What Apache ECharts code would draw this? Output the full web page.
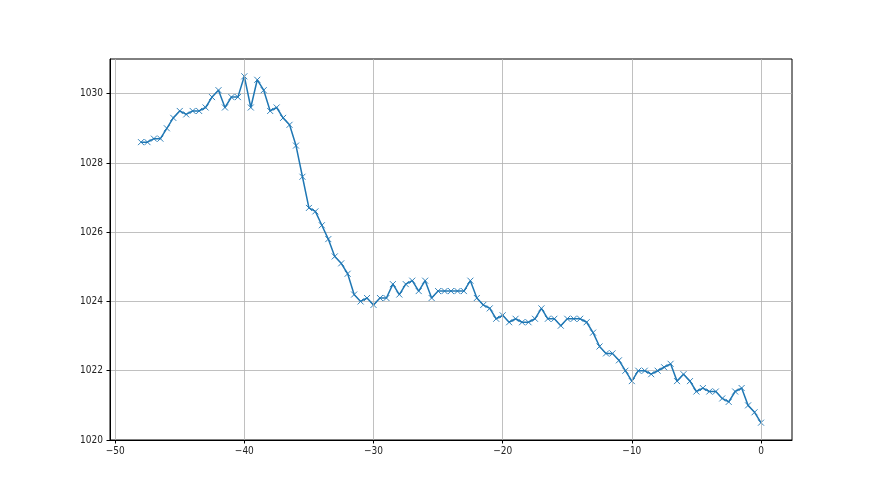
<!DOCTYPE html>
<html>
<head>
<meta charset="utf-8">
<script src="https://cdn.jsdelivr.net/npm/echarts@6/dist/echarts.min.js"></script>
<style>html,body{margin:0;padding:0;background:#fff;}#chart{width:880px;height:495px;}</style>
</head>
<body>
<div id="chart"></div>
<script>
const times = [-48,-47.5,-47,-46.5,-46,-45.5,-45,-44.5,-44,-43.5,-43,-42.5,-42,-41.5,-41,-40.5,-40,
  -39.5,-39,-38.5,-38,-37.5,-37,-36.5,-36,-35.5,-35,-34.5,-34,-33.5,-33,-32.5,-32,-31.5,-31,-30.5,-30,
  -29.5,-29,-28.5,-28,-27.5,-27,-26.5,-26,-25.5,-25,-24.5,-24,-23.5,-23,-22.5,-22,-21.5,-21,-20.5,-20,
  -19.5,-19,-18.5,-18,-17.5,-17,-16.5,-16,-15.5,-15,-14.5,-14,-13.5,-13,-12.5,-12,-11.5,-11,-10.5,-10,
  -9.5,-9,-8.5,-8,-7.5,-7,-6.5,-6,-5.5,-5,-4.5,-4,-3.5,-3,-2.5,-2,-1.5,-1,-0.5,0];
const pressure = [1028.6,1028.6,1028.7,1028.7,1029.0,1029.3,1029.5,1029.4,1029.5,1029.5,1029.6,1029.9,1030.1,1029.6,1029.9,1029.9,1030.5,
  1029.6,1030.4,1030.1,1029.5,1029.6,1029.3,1029.1,1028.5,1027.6,1026.7,1026.6,1026.2,1025.8,1025.3,1025.1,1024.8,1024.2,1024.0,1024.1,1023.9,
  1024.1,1024.1,1024.5,1024.2,1024.5,1024.6,1024.3,1024.6,1024.1,1024.3,1024.3,1024.3,1024.3,1024.3,1024.6,1024.1,1023.9,1023.8,1023.5,1023.6,
  1023.4,1023.5,1023.4,1023.4,1023.5,1023.8,1023.5,1023.5,1023.3,1023.5,1023.5,1023.5,1023.4,1023.1,1022.7,1022.5,1022.5,1022.3,1022.0,1021.7,
  1022.0,1022.0,1021.9,1022.0,1022.1,1022.2,1021.7,1021.9,1021.7,1021.4,1021.5,1021.4,1021.4,1021.2,1021.1,1021.4,1021.5,1021.0,1020.8,1020.5];
const xTicks = [-50,-40,-30,-20,-10,0];
const yTicks = [1020,1022,1024,1026,1028,1030];

const chart = echarts.init(document.getElementById('chart'), null, {renderer:'canvas'});
const font = {fontFamily:"'Liberation Sans Narrow', 'DejaVu Sans Condensed', 'DejaVu Sans', sans-serif", fontSize:10, color:'#222'};
const fmtX = v => String(v).replace('-', '\u2212');
const fmtY = v => String(v);
chart.setOption({
  animation:false,
  backgroundColor:'#fff',
  grid:{left:110, right:88, top:59, bottom:55, show:true, borderColor:'#000', borderWidth:1, backgroundColor:'transparent'},
  xAxis:{
    type:'value', min:-50.4, max:2.4,
    axisLine:{show:true, onZero:false, lineStyle:{color:'#000', width:1}},
    axisTick:{show:true, length:3.5, lineStyle:{color:'#000'}, customValues:xTicks},
    axisLabel:Object.assign({margin:6, formatter:fmtX, customValues:xTicks}, font),
    splitLine:{show:false}
  },
  yAxis:{
    type:'value', min:1020, max:1031, interval:2,
    axisLine:{show:true, onZero:false, lineStyle:{color:'#000', width:1}},
    axisTick:{show:true, length:3.5, lineStyle:{color:'#000'}, customValues:yTicks},
    axisLabel:Object.assign({margin:7, formatter:fmtY, customValues:yTicks}, font),
    splitLine:{show:true, lineStyle:{color:'#b0b0b0', width:0.8}}
  },
  series:[
    {
      type:'line', data:[], z:1, silent:true,
      markLine:{
        silent:true, symbol:'none', animation:false,
        label:{show:false},
        lineStyle:{color:'#b0b0b0', width:0.8, type:'solid'},
        emphasis:{disabled:true},
        data:xTicks.map(v => ({xAxis:v}))
      }
    },
    {
      type:'line', z:3,
      data:times.map((t,i) => [t, pressure[i]]),
      symbol:'path://M0,0L10,10M10,0L0,10',
      symbolSize:6,
      showAllSymbol:true,
      lineStyle:{color:'#1f77b4', width:1.5},
      itemStyle:{color:'#1f77b4', borderColor:'#1f77b4', borderWidth:0.9},
      emphasis:{disabled:true}
    }
  ]
});
</script>
</body>
</html>
